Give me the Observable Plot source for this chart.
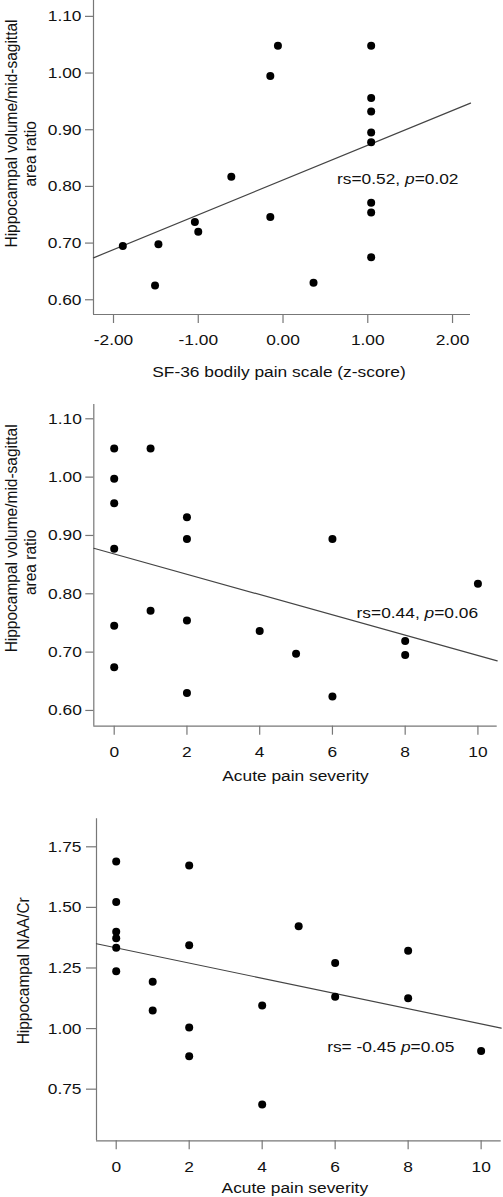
<!DOCTYPE html>
<html><head><meta charset="utf-8">
<script src="https://cdn.jsdelivr.net/npm/d3@7"></script>
<script src="https://cdn.jsdelivr.net/npm/@observablehq/plot@0.6"></script>
<style>
html,body{margin:0;padding:0;background:#fff;}
#chart svg{display:block;}
</style></head><body><div id="chart"></div>
<script>
// ---- Panel A: SF-36 bodily pain vs hippocampal volume ratio
const sf36Z  = [-1.89,-1.51,-1.47,-1.04,-1.00,-0.61,-0.15,-0.06,-0.15,0.36,1.04,1.04,1.04,1.04,1.04,1.04,1.04,1.04];
const ratioA = [0.695,0.625,0.698,0.737,0.720,0.817,0.995,1.048,0.746,0.630,1.048,0.956,0.932,0.895,0.878,0.771,0.754,0.675];
const fitAX = [-2.236, 2.212];
const fitAY = [0.674, 0.947];
const ticksAX = [-2,-1,0,1,2];
const ticksAY = [0.6,0.7,0.8,0.9,1.0,1.1];
const annA = {x: 0.637, y: 0.805, text: "rs=0.52, p=0.02"};

// ---- Panel B: acute pain severity vs hippocampal volume ratio
const acuteB = [0,0,0,0,0,0,1,1,2,2,2,2,4,5,6,6,8,8,10];
const ratioB = [1.049,0.997,0.955,0.877,0.745,0.674,1.049,0.771,0.931,0.894,0.754,0.630,0.736,0.697,0.894,0.624,0.719,0.695,0.817];
const fitBX = [-0.561, 10.53];
const fitBY = [0.878, 0.685];
const ticksBX = [0,2,4,6,8,10];
const ticksBY = [0.6,0.7,0.8,0.9,1.0,1.1];
const annB = {x: 6.664, y: 0.759, text: "rs=0.44, p=0.06"};

// ---- Panel C: acute pain severity vs hippocampal NAA/Cr
const acuteC = [0,0,0,0,0,0,1,1,2,2,2,2,4,4,5,6,6,8,8,10];
const naaC   = [1.689,1.522,1.400,1.373,1.333,1.237,1.193,1.075,1.673,1.344,1.004,0.886,1.095,0.687,1.422,1.271,1.131,1.321,1.125,0.907];
const fitCX = [-0.540, 10.55];
const fitCY = [1.350, 1.002];
const ticksCX = [0,2,4,6,8,10];
const ticksCY = [0.75,1.0,1.25,1.5,1.75];
const annC = {x: 5.78, y: 0.903, text: "rs= -0.45 p=0.05"};

const yTitleVol = ["Hippocampal volume/mid-sagittal", "area ratio"];
const yTitleNAA = ["Hippocampal NAA/Cr"];
const xTitleSF = "SF-36 bodily pain scale (z-score)";
const xTitleAcute = "Acute pain severity";

const FONT = "'Liberation Sans', Arial, Helvetica, sans-serif";
const AXIS = "#777";
const STRETCH = 1.12; // reference glyphs are horizontally widened

function panel(c) {
  const pts = c.xs.map((x, i) => ({x, y: c.ys[i]}));
  const fit = c.fitX.map((x, i) => ({x, y: c.fitY[i]}));
  const marks = [
    Plot.ruleY([c.yDomain[0]], {stroke: AXIS, strokeWidth: 1.2}),
    Plot.ruleX([c.xDomain[0]], {stroke: AXIS, strokeWidth: 1.2}),
    Plot.axisX({ticks: c.xTicks, tickFormat: c.xFmt, tickSize: 9, tickPadding: c.xPad, stroke: AXIS, strokeWidth: 1.2, fill: "#111", label: null}),
    Plot.axisY({ticks: c.yTicks, tickFormat: d => d.toFixed(2), tickSize: c.yTick, tickPadding: c.yPad, stroke: AXIS, strokeWidth: 1.2, fill: "#111", label: null}),
    Plot.line(fit, {x: "x", y: "y", stroke: "#444", strokeWidth: 1.2}),
    Plot.dot(pts, {x: "x", y: "y", r: 4, fill: "#000", stroke: "none"}),
    Plot.text([c.ann], {x: "x", y: "y", text: "text", textAnchor: "start", lineAnchor: "bottom", fill: "#111"}),
    Plot.text([c.xTitle], {frameAnchor: "bottom", textAnchor: "middle", lineAnchor: "bottom", dy: c.xTitleDy, dx: c.xTitleDx, fill: "#111"})
  ];
  c.yTitle.forEach((t, i) => {
    marks.push(Plot.text([t], {frameAnchor: "left", rotate: -90, textAnchor: "middle", lineAnchor: "bottom", dx: c.yTitleDx[i], dy: c.yTitleDy[i], fill: "#111"}));
  });
  return Plot.plot({
    width: 503, height: c.height,
    marginTop: c.mt, marginBottom: c.mb, marginLeft: c.ml, marginRight: c.mr,
    style: {fontFamily: FONT, fontSize: "15.5px", color: "#111", background: "#fff"},
    x: {domain: c.xDomain},
    y: {domain: c.yDomain},
    marks
  });
}

const root = document.getElementById("chart");
const charts = [
  panel({xs: sf36Z, ys: ratioA, fitX: fitAX, fitY: fitAY, xTicks: ticksAX, yTicks: ticksAY, ann: annA,
    xFmt: d => d.toFixed(2), xDomain: [-2.236, 2.212], yDomain: [0.574, 1.128],
    height: 392, mt: 0, mb: 78, ml: 93, mr: 33, xPad: 10.3, yTick: 8, yPad: 4,
    xTitle: xTitleSF, xTitleDy: 62.7, xTitleDx: -3,
    yTitle: yTitleVol, yTitleDx: [-76.3, -58], yTitleDy: [-24, -3.7]}),
  panel({xs: acuteB, ys: ratioB, fitX: fitBX, fitY: fitBY, xTicks: ticksBX, yTicks: ticksBY, ann: annB,
    xFmt: d => String(d), xDomain: [-0.561, 10.53], yDomain: [0.573, 1.1245],
    height: 393, mt: 12, mb: 59.3, ml: 93.3, mr: 6.3, xPad: 11, yTick: 8, yPad: 4,
    xTitle: xTitleAcute, xTitleDy: 54.3, xTitleDx: 0,
    yTitle: yTitleVol, yTitleDx: [-76.6, -58.3], yTitleDy: [-27, -3]}),
  panel({xs: acuteC, ys: naaC, fitX: fitCX, fitY: fitCY, xTicks: ticksCX, yTicks: ticksCY, ann: annC,
    xFmt: d => String(d), xDomain: [-0.540, 10.55], yDomain: [0.537, 1.8655],
    height: 412, mt: 33.3, mb: 56.7, ml: 96, mr: 2.3, xPad: 10.7, yTick: 10, yPad: 5,
    xTitle: xTitleAcute, xTitleDy: 52.4, xTitleDx: -4,
    yTitle: yTitleNAA, yTitleDx: [-67.7], yTitleDy: [-9]})
];
charts.forEach(ch => root.appendChild(ch));

const NS = "http://www.w3.org/2000/svg";
document.querySelectorAll("#chart text").forEach(t => {
  // italicize the "p" in the correlation annotations
  const s = t.textContent;
  const m = s.match(/^(rs=.*?)(p)(=.*)$/);
  if (m) {
    t.textContent = "";
    [[m[1], false], [m[2], true], [m[3], false]].forEach(([txt, it]) => {
      const ts = document.createElementNS(NS, "tspan");
      ts.textContent = txt;
      if (it) ts.setAttribute("font-style", "italic");
      t.appendChild(ts);
    });
    t.setAttribute("xml:space", "preserve");
  }
  // widen glyphs horizontally (on screen) like the reference
  const tr = t.getAttribute("transform") || "";
  const rotated = /rotate\(\s*-?90/.test(tr);
  t.setAttribute("transform", tr + (rotated ? ` scale(1,${STRETCH})` : ` scale(${STRETCH},1)`));
});
</script>
</body></html>
